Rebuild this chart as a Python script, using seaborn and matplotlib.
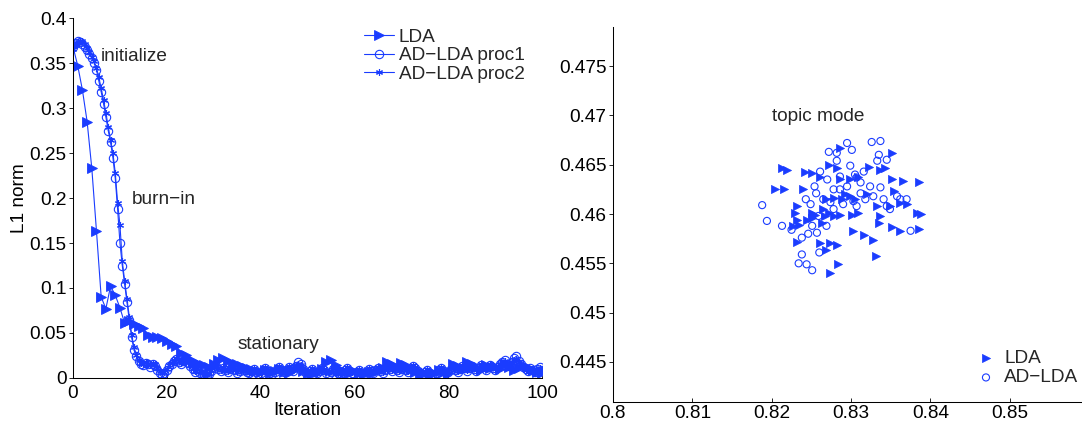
import numpy as np
import pandas as pd
import matplotlib
matplotlib.use("Agg")
import matplotlib.pyplot as plt
from matplotlib.ticker import FuncFormatter
import seaborn as sns

# ---- left panel: L1 norm per Gibbs iteration ----
lda_iter = np.arange(0, 101)
lda_l1 = [
    .368, .347, .320, .285, .233, .163, .090, .077, .102, .092,
    .078, .061, .063, .060, .058, .055, .048, .046, .045, .044,
    .041, .038, .036, .028, .025, .021, .018, .016, .014, .012,
    .015, .020, .022, .019, .017, .015, .013, .011, .010, .008,
    .007, .009, .006, .008, .010, .007, .005, .009, .011, .008,
    .006, .004, .007, .010, .018, .020, .014, .010, .007, .005,
    .008, .006, .004, .007, .005, .008, .011, .018, .015, .012,
    .017, .014, .010, .007, .004, .006, .003, .006, .009, .007,
    .005, .016, .013, .010, .018, .016, .012, .009, .014, .011,
    .013, .010, .015, .012, .009, .011, .014, .012, .009, .007,
    .005,
]

adlda_iter = np.arange(0, 100.5, 0.5)
proc1_l1 = [
    .368, .372, .374, .373, .371, .368, .365, .360, .356, .350,
    .342, .330, .318, .305, .290, .275, .262, .245, .222, .188,
    .150, .125, .104, .084, .064, .045, .031, .024, .019, .016,
    .014, .017, .015, .012, .016, .013, .009, .006, .003, .006,
    .009, .013, .016, .019, .021, .018, .016, .019, .021, .017,
    .013, .010, .007, .010, .006, .004, .003, .002, .004, .008,
    .011, .013, .010, .008, .011, .009, .007, .010, .012, .009,
    .006, .008, .011, .009, .007, .005, .008, .010, .007, .004,
    .006, .009, .011, .008, .006, .004, .007, .010, .012, .009,
    .007, .009, .012, .010, .008, .013, .018, .015, .010, .007,
    .005, .008, .010, .007, .005, .008, .011, .009, .006, .004,
    .007, .010, .008, .005, .003, .006, .009, .011, .008, .006,
    .004, .007, .009, .006, .004, .007, .010, .008, .006, .009,
    .011, .008, .006, .009, .012, .010, .008, .011, .009, .007,
    .010, .012, .009, .007, .010, .013, .011, .008, .006, .004,
    .007, .009, .006, .004, .003, .006, .009, .011, .008, .005,
    .007, .010, .012, .009, .007, .010, .013, .011, .008, .011,
    .013, .010, .008, .011, .014, .012, .009, .012, .014, .011,
    .009, .012, .015, .018, .020, .016, .013, .018, .022, .024,
    .019, .015, .012, .010, .008, .011, .009, .007, .010, .012,
    .009,
]
proc2_l1 = [
    .366, .370, .373, .375, .374, .371, .367, .362, .357, .352,
    .345, .334, .322, .309, .295, .279, .265, .250, .228, .195,
    .170, .130, .108, .088, .068, .048, .034, .026, .020, .017,
    .015, .018, .016, .014, .017, .015, .011, .008, .005, .007,
    .010, .014, .017, .020, .022, .019, .017, .020, .022, .018,
    .014, .011, .008, .011, .008, .005, .004, .003, .005, .009,
    .012, .014, .011, .009, .012, .010, .008, .011, .013, .010,
    .007, .009, .012, .010, .008, .006, .009, .011, .008, .005,
    .007, .010, .012, .009, .007, .005, .008, .011, .013, .010,
    .008, .010, .013, .011, .009, .012, .016, .014, .011, .008,
    .006, .009, .011, .008, .006, .009, .012, .010, .007, .005,
    .008, .011, .009, .006, .004, .007, .010, .012, .009, .007,
    .005, .008, .010, .007, .005, .008, .011, .009, .007, .010,
    .012, .009, .007, .010, .013, .011, .009, .012, .010, .008,
    .011, .013, .010, .008, .011, .014, .012, .009, .007, .005,
    .008, .010, .007, .005, .004, .007, .010, .012, .009, .006,
    .008, .011, .013, .010, .008, .011, .014, .012, .009, .012,
    .014, .011, .009, .012, .015, .013, .010, .013, .015, .012,
    .010, .013, .016, .017, .019, .017, .014, .017, .020, .021,
    .018, .014, .011, .009, .007, .010, .008, .006, .009, .011,
    .008,
]

# ---- right panel: topic mode locations (x, y) ----
lda_mode = [
    (.8213, .4647), (.8219, .4645), (.8204, .4625), (.8215, .4625), (.8240, .4625),
    (.8242, .4643), (.8251, .4642), (.8261, .4638), (.8272, .4650), (.8282, .4647),
    (.8286, .4667), (.8286, .4635), (.8299, .4635), (.8309, .4638), (.8322, .4648),
    (.8337, .4645), (.8343, .4647), (.8351, .4662), (.8351, .4635), (.8366, .4633),
    (.8354, .4623), (.8320, .4620), (.8305, .4615), (.8299, .4618), (.8293, .4620),
    (.8288, .4615), (.8278, .4616), (.8269, .4615), (.8265, .4605), (.8267, .4598),
    (.8263, .4591), (.8272, .4601), (.8251, .4601), (.8230, .4601), (.8232, .4594),
    (.8227, .4588), (.8234, .4589), (.8244, .4594), (.8251, .4596), (.8255, .4599),
    (.8278, .4598), (.8286, .4599), (.8301, .4599), (.8309, .4601), (.8333, .4608),
    (.8337, .4598), (.8349, .4608), (.8362, .4611), (.8370, .4610), (.8383, .4601),
    (.8335, .4591), (.8351, .4587), (.8362, .4583), (.8303, .4583), (.8316, .4579),
    (.8328, .4574), (.8232, .4572), (.8261, .4571), (.8274, .4571), (.8282, .4569),
    (.8269, .4564), (.8331, .4557), (.8284, .4549), (.8274, .4540), (.8232, .4608),
    (.8385, .4632), (.8388, .4600), (.8385, .4585),
]
adlda_mode = [
    (.8188, .4609), (.8194, .4593), (.8213, .4588), (.8225, .4584), (.8238, .4576),
    (.8246, .4580), (.8251, .4588), (.8238, .4559), (.8234, .4550), (.8244, .4549),
    (.8251, .4543), (.8260, .4561), (.8243, .4615), (.8249, .4610), (.8254, .4628),
    (.8256, .4621), (.8261, .4643), (.8270, .4635), (.8272, .4663), (.8282, .4662),
    (.8295, .4672), (.8301, .4665), (.8282, .4654), (.8286, .4638), (.8305, .4640),
    (.8307, .4637), (.8295, .4628), (.8326, .4673), (.8337, .4674), (.8335, .4660),
    (.8333, .4654), (.8337, .4627), (.8324, .4628), (.8312, .4632), (.8318, .4615),
    (.8328, .4618), (.8358, .4618), (.8362, .4615), (.8375, .4583), (.8345, .4608),
    (.8265, .4615), (.8278, .4605), (.8290, .4610), (.8303, .4613), (.8286, .4625),
    (.8312, .4621), (.8259, .4598), (.8269, .4588), (.8257, .4581), (.8278, .4625),
    (.8299, .4649), (.8316, .4643), (.8345, .4655), (.8341, .4615), (.8349, .4605),
    (.8370, .4615), (.8307, .4608), (.8274, .4612),
]

BLUE = "#1a3cff"
FS = 13.7


def style_axes(ax, xpad=5):
    sns.despine(ax=ax)
    for side in ["left", "bottom"]:
        ax.spines[side].set_color("black")
        ax.spines[side].set_linewidth(0.75)
    ax.tick_params(axis="y", left=True, direction="out", length=3.2, width=0.6,
                   pad=1.5, colors="black", labelsize=FS)
    ax.tick_params(axis="x", bottom=True, direction="in", length=3, width=0.6,
                   pad=xpad, colors="black", labelsize=FS)
    ax.yaxis.set_major_formatter(FuncFormatter(lambda v, p: f"{v:g}"))
    ax.xaxis.set_major_formatter(FuncFormatter(lambda v, p: f"{v:g}"))


def main():
    sns.set_theme(style="white")
    plt.rcParams['font.family'] = ['Liberation Sans', 'DejaVu Sans']
    plt.rcParams.update({'font.size': FS, 'axes.labelsize': FS,
                         'legend.fontsize': FS})

    fig = plt.figure(figsize=(10.82, 4.23), dpi=100)
    ax1 = fig.add_axes([0.0675, 0.1064, 0.4335, 0.851])
    ax2 = fig.add_axes([0.5665, 0.0496, 0.4335, 0.8866])

    # Left: convergence curves
    sns.lineplot(x=lda_iter, y=lda_l1, ax=ax1, color=BLUE, lw=0.8,
                 marker=">", markersize=6.5, markerfacecolor=BLUE,
                 markeredgecolor=BLUE, markeredgewidth=0.6, label="LDA")
    sns.lineplot(x=adlda_iter, y=proc1_l1, ax=ax1, color=BLUE, lw=0.8,
                 marker="o", markersize=6, markerfacecolor="none",
                 markeredgecolor=BLUE, markeredgewidth=0.8,
                 label="AD\u2212LDA proc1")
    sns.lineplot(x=adlda_iter, y=proc2_l1, ax=ax1, color=BLUE, lw=0.8,
                 marker=(6, 2, 0), markersize=5, markerfacecolor=BLUE,
                 markeredgecolor=BLUE, markeredgewidth=0.8,
                 label="AD\u2212LDA proc2")
    ax1.set_xlim(0, 100)
    ax1.set_ylim(0, 0.4)
    ax1.set_xticks([0, 20, 40, 60, 80, 100])
    ax1.set_yticks(np.arange(0, 0.401, 0.05))
    style_axes(ax1, xpad=5)
    ax1.set_xlabel("Iteration", fontsize=FS, color="black", va="top")
    ax1.xaxis.set_label_coords(0.5, -0.067)
    ax1.set_ylabel("L1 norm", fontsize=FS, color="black")
    ax1.yaxis.set_label_coords(-0.095, 0.5)

    ax1.text(6.0, 0.352, "initialize", fontsize=FS, va="baseline")
    ax1.text(12.6, 0.193, "burn\u2212in", fontsize=FS, va="baseline")
    ax1.text(35.0, 0.032, "stationary", fontsize=FS, va="baseline")

    ax1.legend(loc="upper left", bbox_to_anchor=(0.6205, 0.97), frameon=False,
               borderpad=0, borderaxespad=0, handlelength=1.55,
               handletextpad=0.26, labelspacing=0.05, fontsize=FS)

    # Right: topic mode scatter
    lda_df = pd.DataFrame(lda_mode, columns=["x", "y"])
    ad_df = pd.DataFrame(adlda_mode, columns=["x", "y"])
    sns.scatterplot(data=lda_df, x="x", y="y", ax=ax2, marker=">", s=34,
                    color=BLUE, edgecolor=BLUE, linewidth=0.5, label="LDA")
    sns.scatterplot(data=ad_df, x="x", y="y", ax=ax2, marker="o", s=26,
                    facecolors="none", edgecolor=BLUE, linewidth=0.8,
                    label="AD\u2212LDA")
    ax2.set_xlim(0.8, 0.8591)
    ax2.set_ylim(0.44094, 0.47896)
    ax2.set_xticks([0.8, 0.81, 0.82, 0.83, 0.84, 0.85])
    ax2.set_yticks([0.445, 0.45, 0.455, 0.46, 0.465, 0.47, 0.475])
    style_axes(ax2, xpad=2.5)
    ax2.set_xlabel("")
    ax2.set_ylabel("")
    ax2.text(0.8201, 0.4694, "topic mode", fontsize=FS, va="baseline")

    ax2.legend(loc="upper left", bbox_to_anchor=(0.775, 0.139), frameon=False,
               borderpad=0, borderaxespad=0, handlelength=1.0,
               handletextpad=0.45, labelspacing=0.1, fontsize=FS)

    fig.savefig("out.png", dpi=100)
    plt.close(fig)


if __name__ == "__main__":
    main()
